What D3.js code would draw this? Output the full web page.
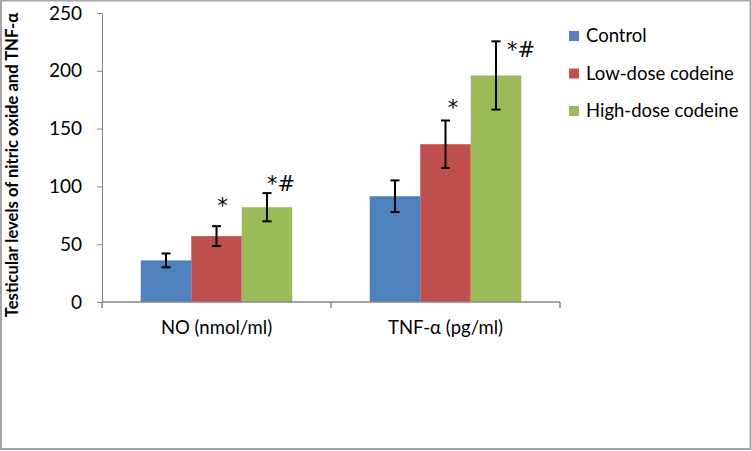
<!DOCTYPE html>
<html><head><meta charset="utf-8">
<script src="https://cdn.jsdelivr.net/npm/d3@7"></script>
<style>body{margin:0;background:#fff}svg{display:block}</style>
</head><body><svg id="c" width="752" height="451"></svg>
<script>
const categories = ["NO (nmol/ml)", "TNF-α (pg/ml)"];
const seriesNames = ["Control", "Low-dose codeine", "High-dose codeine"];
const colors = ["#4f81bd", "#c0504d", "#9bbb59"];
const means = [[36, 91.5], [57, 136.5], [82, 196]];
const errs = [[6, 13.7], [8.6, 20.5], [12.2, 29.5]];
const marks = [["", ""], ["*", "*"], ["*#", "*#"]];
// annotation offsets (dx from bar centre, dy from error-bar top) — hand placed as in the source
const markOffsets = [[[0,0],[0,0]], [[6,-13],[7.5,-5.5]], [[0,-2],[11,15.5]]];
const yTicks = [0, 50, 100, 150, 200, 250];
const yTitle = "Testicular levels of nitric oxide and TNF-α";

const svg = d3.select("#c");
const font = "Lato, 'Open Sans', sans-serif";
svg.append("rect").attr("x",1).attr("y",0.5).attr("width",749.5).attr("height",448.5)
  .attr("fill","none").attr("stroke","#a6a6a6").attr("stroke-width",2);

const x0 = 102, x1 = 560, yTop = 13, yBot = 302;
const x = d3.scaleBand().domain(categories).range([x0, x1]);
const y = d3.scaleLinear().domain([0, 250]).range([yBot, yTop]);
const bw = 50.5;

const yAxis = svg.append("g").attr("transform",`translate(${x0},0)`)
  .call(d3.axisLeft(y).tickValues(yTicks).tickSize(5).tickPadding(15));
yAxis.select(".domain").attr("stroke","#868686");
yAxis.selectAll(".tick line").attr("stroke","#868686");
yAxis.selectAll("text").attr("font-family",font).attr("font-size",19).attr("fill","#000");

categories.forEach((c, ci) => {
  const gx = x(c) + x.bandwidth()/2 - 1.5*bw;
  seriesNames.forEach((s, si) => {
    const bx = gx + si*bw;
    svg.append("rect").attr("x",bx).attr("y",y(means[si][ci]))
      .attr("width",bw).attr("height",yBot - y(means[si][ci])).attr("fill",colors[si]);
  });
});
const xAxis = svg.append("g").attr("transform",`translate(0,${yBot})`)
  .call(d3.axisBottom(x).tickSize(0).tickPadding(19));
xAxis.select(".domain").attr("stroke","#868686").attr("stroke-width",1.5)
  .attr("d",`M${x0},0H${x1}`);
xAxis.selectAll("text").attr("font-family",font).attr("font-size",18.5).attr("fill","#000");
[x0, x0 + x.bandwidth(), x1].forEach(v => {
  svg.append("line").attr("x1",v).attr("x2",v).attr("y1",yBot).attr("y2",yBot+6)
    .attr("stroke","#868686").attr("stroke-width",1.5);
});

categories.forEach((c, ci) => {
  const gx = x(c) + x.bandwidth()/2 - 1.5*bw;
  seriesNames.forEach((s, si) => {
    const cx = gx + si*bw + bw/2;
    const m = means[si][ci], e = errs[si][ci];
    const g = svg.append("g").attr("stroke","#000").attr("stroke-width",2);
    g.append("line").attr("x1",cx).attr("x2",cx).attr("y1",y(m+e)).attr("y2",y(m-e));
    g.append("line").attr("x1",cx-4.5).attr("x2",cx+4.5).attr("y1",y(m+e)).attr("y2",y(m+e));
    g.append("line").attr("x1",cx-4.5).attr("x2",cx+4.5).attr("y1",y(m-e)).attr("y2",y(m-e));
    if (marks[si][ci]) {
      const [dx, dy] = markOffsets[si][ci];
      const multi = marks[si][ci].length > 1;
      svg.append("text").attr("x",cx+dx).attr("y",y(m+e)+dy)
        .attr("text-anchor", multi ? "start" : "middle")
        .attr("font-family","'DejaVu Sans', sans-serif").attr("font-size",21).text(marks[si][ci]);
    }
  });
});

svg.append("text").attr("transform",`translate(18,165) rotate(-90)`)
  .attr("text-anchor","middle").attr("font-family",font).attr("font-weight","bold")
  .attr("font-size",16.6).text(yTitle);

seriesNames.forEach((s, i) => {
  const ly = 36 + i*37.5;
  svg.append("rect").attr("x",569).attr("y",ly-5).attr("width",10).attr("height",10).attr("fill",colors[i]);
  svg.append("text").attr("x",586).attr("y",ly).attr("dy","0.35em")
    .attr("font-family",font).attr("font-size",18.5).text(s);
});
</script></body></html>
